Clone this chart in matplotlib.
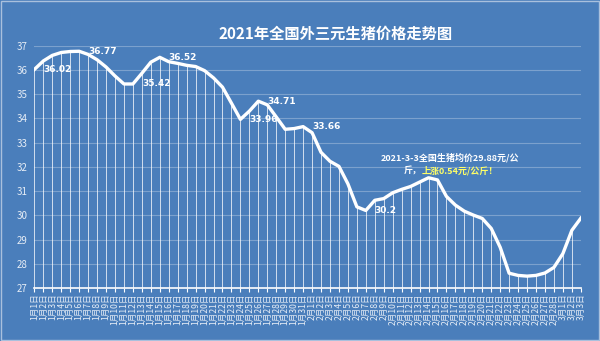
import matplotlib
matplotlib.use("Agg")
import matplotlib.pyplot as plt
import numpy as np

plt.rcParams['font.family'] = ['Noto Sans CJK SC', 'DejaVu Sans']

dates = ([f"1月{d}日" for d in range(1, 32)] +
         [f"2月{d}日" for d in range(1, 29)] +
         [f"3月{d}日" for d in range(1, 4)])

prices = [36.02, 36.37, 36.60, 36.72, 36.76, 36.77, 36.64, 36.42, 36.12, 35.75,
          35.42, 35.42, 35.86, 36.32, 36.52, 36.34, 36.27, 36.19, 36.14, 35.97,
          35.67, 35.29, 34.63, 33.96, 34.30, 34.71, 34.56, 34.06, 33.55, 33.58,
          33.66, 33.41, 32.60, 32.23, 32.02, 31.30, 30.35, 30.20, 30.62, 30.69,
          30.93, 31.07, 31.19, 31.37, 31.55, 31.46, 30.78, 30.42, 30.17, 30.01,
          29.87, 29.46, 28.68, 27.61, 27.52, 27.49, 27.52, 27.62, 27.85, 28.42,
          29.38, 29.88]

labels = {0: "36.02", 5: "36.77", 11: "35.42", 14: "36.52", 23: "33.96",
          25: "34.71", 30: "33.66", 37: "30.2"}

title = "2021年全国外三元生猪价格走势图"
note1 = "2021-3-3全国生猪均价29.88元/公"
note2a = "斤，"
note2b = "上涨0.54元/公斤！"

bg = "#4a7ebb"
fig = plt.figure(figsize=(6, 3.41), dpi=100, facecolor=bg)
ax = fig.add_axes([0.0573, 0.1554, 0.9107, 0.7106])
ax.set_facecolor(bg)

x = np.arange(len(prices))
ax.set_ylim(27, 37)
ax.set_xlim(0, len(prices) - 1)
ax.set_yticks(range(27, 38))
ax.grid(axis='y', color='white', alpha=0.28, linewidth=0.8)
ax.set_axisbelow(True)

# drop lines
ax.vlines(x, 27, prices, colors='white', alpha=0.75, linewidth=0.7, zorder=2)
ax.plot(x, prices, color='white', linewidth=2.4, zorder=3, solid_joinstyle='round')

for i, t in labels.items():
    ax.annotate(t, (x[i], prices[i]), xytext=(6.5, 0), textcoords='offset points',
                ha='left', va='center', color='white', fontsize=6.5,
                fontweight='bold', family=['DejaVu Sans'], zorder=4)

for s in ['top', 'right', 'left']:
    ax.spines[s].set_visible(False)
ax.spines['bottom'].set_color('white')
ax.spines['bottom'].set_linewidth(1.2)

ax.set_xticks(x)
ax.set_xticklabels(dates, rotation=90, fontsize=6.2, color='#e6edf6')
ax.tick_params(axis='x', colors='white', length=3, width=0.8, pad=1,
               labelcolor='#e6edf6')
ax.tick_params(axis='y', length=0, labelsize=7, labelcolor='#e6edf6', pad=5)

fig.text(0.56, 0.90, title, ha='center', va='center', color='white',
         fontsize=11, fontweight='bold')

fig.text(0.75, 0.537, note1, ha='center', va='center', color='white',
         fontsize=6.5, fontweight='bold')
fig.text(0.672, 0.499, note2a, ha='left', va='center', color='white',
         fontsize=6.5, fontweight='bold')
fig.text(0.703, 0.499, note2b, ha='left', va='center', color='#ffff66',
         fontsize=6.5, fontweight='bold')

fig.patches.append(plt.Rectangle((0.002, 0.003), 0.996, 0.994, transform=fig.transFigure,
                                 fill=False, edgecolor='#a9c0dd', linewidth=1))

fig.savefig("out.png", dpi=100, facecolor=bg)
